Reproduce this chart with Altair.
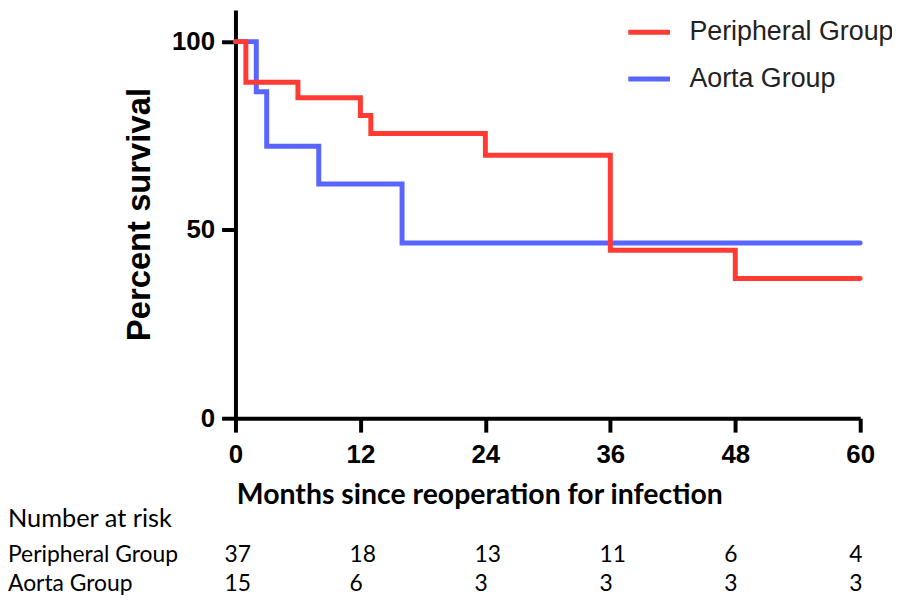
import altair as alt
import pandas as pd

groups = ["Peripheral Group", "Aorta Group"]
colors = ["#ff3b33", "#5865ff"]

peripheral_months = [0, 1, 6, 12, 13, 24, 36, 48, 60]
peripheral_surv = [100, 89.2, 85.1, 80.4, 75.6, 69.8, 44.6, 37.1, 37.1]

aorta_months = [0, 2, 3, 8, 16, 60]
aorta_surv = [100, 86.7, 72.2, 62.2, 46.5, 46.5]

risk_months = [0, 12, 24, 36, 48, 60]
risk_peripheral = [37, 18, 13, 11, 6, 4]
risk_aorta = [15, 6, 3, 3, 3, 3]

x_ticks = [0, 12, 24, 36, 48, 60]
y_ticks = [0, 50, 100]

per_df = pd.DataFrame({"month": peripheral_months, "survival": peripheral_surv, "group": groups[0]})
aor_df = pd.DataFrame({"month": aorta_months, "survival": aorta_surv, "group": groups[1]})
risk_df = pd.DataFrame({"month": risk_months, "peripheral": risk_peripheral, "aorta": risk_aorta})

x_enc = alt.X(
    "month:Q",
    scale=alt.Scale(domain=[0, 60], nice=False, zero=False),
    axis=alt.Axis(
        values=x_ticks,
        title="Months since reoperation for infection",
        titleFont="Lato",
        titleFontSize=28.6,
        titleFontWeight="bold",
        titleColor="black",
        titleX=245.5,
        titleY=86,
        titleAlign="center",
        titleBaseline="alphabetic",
        labelFont="Liberation Sans",
        labelFontSize=26,
        labelFontWeight="bold",
        labelColor="black",
        labelPadding=10,
        labelFlush=False,
        domainColor="black",
        domainWidth=4,
        tickColor="black",
        tickWidth=4,
        tickSize=14,
        grid=False,
    ),
)
y_enc = alt.Y(
    "survival:Q",
    scale=alt.Scale(domain=[0, 108.4], nice=False),
    axis=alt.Axis(
        values=y_ticks,
        title="Percent survival",
        titleFont="Liberation Sans",
        titleFontSize=33,
        titleFontWeight="bold",
        titleColor="black",
        titleX=-87,
        titleY=205.5,
        titleAlign="center",
        titleBaseline="alphabetic",
        labelFont="Liberation Sans",
        labelFontSize=26,
        labelFontWeight="bold",
        labelColor="black",
        labelPadding=7,
        labelFlush=False,
        domainColor="black",
        domainWidth=4,
        tickColor="black",
        tickWidth=4,
        tickSize=14,
        grid=False,
    ),
)
color_enc = alt.Color(
    "group:N",
    scale=alt.Scale(domain=groups, range=colors),
    legend=alt.Legend(
        title=None,
        orient="none",
        legendX=393,
        legendY=-1,
        padding=0,
        symbolType="stroke",
        symbolSize=1764,
        symbolStrokeWidth=5,
        labelFont="Liberation Sans",
        labelFontSize=27,
        labelColor="#222222",
        labelOffset=17,
        labelLimit=400,
        rowPadding=10,
    ),
)

line_kw = dict(interpolate="step-after", strokeWidth=5, strokeCap="round", strokeJoin="miter")

blue = alt.Chart(aor_df).mark_line(**line_kw).encode(x=x_enc, y=y_enc, color=color_enc)
red = alt.Chart(per_df).mark_line(**line_kw).encode(x=x_enc, y=y_enc, color=color_enc)

text_kw = dict(align="left", baseline="alphabetic", font="Lato", color="black")

hdr = alt.Chart(pd.DataFrame({"t": ["Number at risk"]})).mark_text(fontSize=25.5, **text_kw).encode(
    x=alt.value(-229), y=alt.value(521), text="t:N"
)
row1 = alt.Chart(pd.DataFrame({"t": [groups[0]]})).mark_text(fontSize=23, **text_kw).encode(
    x=alt.value(-229), y=alt.value(556), text="t:N"
)
row2 = alt.Chart(pd.DataFrame({"t": [groups[1]]})).mark_text(fontSize=23, **text_kw).encode(
    x=alt.value(-229), y=alt.value(585), text="t:N"
)
num1 = alt.Chart(risk_df).mark_text(fontSize=23, dx=-11, **text_kw).encode(
    x=alt.X("month:Q"), y=alt.value(556), text="peripheral:Q"
)
num2 = alt.Chart(risk_df).mark_text(fontSize=23, dx=-11, **text_kw).encode(
    x=alt.X("month:Q"), y=alt.value(585), text="aorta:Q"
)

chart = (
    alt.layer(blue, red, hdr, row1, row2, num1, num2)
    .properties(
        width=629,
        height=411,
        autosize=alt.AutoSizeParams(type="none"),
        padding={"left": 229, "top": 0, "right": 32, "bottom": 178},
        background="white",
    )
    .configure_view(stroke=None)
)

chart.save("out.html", embed_options={"renderer": "svg", "actions": False})
